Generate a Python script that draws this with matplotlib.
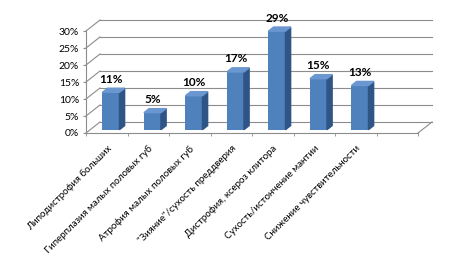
import matplotlib
matplotlib.use("Agg")
import matplotlib.pyplot as plt
from matplotlib.patches import Polygon
from matplotlib.ticker import FuncFormatter

plt.rcParams["font.family"] = ["Lato", "DejaVu Sans"]

# данные
categories = [
    "Липодистрофия больших",
    "Гиперплазия малых половых губ",
    "Атрофия малых половых губ",
    "\"Зияние\"/сухость преддверия",
    "Дистрофия, ксероз клитора",
    "Сухость/истончение мантии",
    "Снижение чувствительности",
    "",
]
values = [11, 5, 10, 17, 29, 15, 13, None]
yticks = [0, 5, 10, 15, 20, 25, 30]

# псевдо-3D параметры (в единицах осей)
DX = 0.337      # глубина по x (категории)
DY = 3.24       # глубина по y (проценты)
t0, t1 = 0.3, 0.67
W = 0.41
grid_c = "#8c8c8c"
front_c = "#4f81bd"
side_c = "#2f5587"
top_c = "#6b97d0"

n = len(categories)
fig = plt.figure(figsize=(4.68, 2.64), dpi=100, facecolor="w")
ax = fig.add_axes([86 / 468, 131 / 264, 346 / 468, 113 / 264])
ax.set_xlim(-0.5, n - 0.5 + DX)
ax.set_ylim(0, 30 + DY)
for s in ax.spines.values():
    s.set_visible(False)

# стены и сетка
x0, x1 = -0.5, n - 0.5
for y in yticks:
    ax.plot([x0, x0 + DX], [y, y + DY], color=grid_c, lw=0.8, zorder=1, clip_on=False)
    ax.plot([x0 + DX, x1 + DX], [y + DY, y + DY], color=grid_c, lw=0.8, zorder=1, clip_on=False)
ax.plot([x0, x0], [0, 30], color=grid_c, lw=0.8, zorder=1, clip_on=False)
ax.plot([x0, x1], [0, 0], color=grid_c, lw=0.8, zorder=1, clip_on=False)
ax.plot([x1, x1 + DX], [0, DY], color=grid_c, lw=0.8, zorder=1, clip_on=False)

# столбцы
for i, v in enumerate(values):
    if v is None:
        continue
    xc = i + t0 * DX
    b = t0 * DY
    bdx = (t1 - t0) * DX
    bdy = (t1 - t0) * DY
    xl, xr = xc - W / 2, xc + W / 2
    ax.bar(xc, v, width=W, bottom=b, color=front_c, zorder=3)
    ax.add_patch(Polygon([(xr, b), (xr, v + b), (xr + bdx, v + b + bdy), (xr + bdx, b + bdy)],
                         closed=True, color=side_c, zorder=3, clip_on=False))
    ax.add_patch(Polygon([(xl, v + b), (xr, v + b), (xr + bdx, v + b + bdy), (xl + bdx, v + b + bdy)],
                         closed=True, color=top_c, zorder=3, clip_on=False))
    ax.annotate("%d%%" % v, (xc, v + b + bdy), xytext=(0, 2.5), textcoords="offset points",
                ha="center", va="bottom", fontsize=8.5, fontweight="bold", annotation_clip=False)

# оси
ax.set_yticks(yticks)
ax.yaxis.set_major_formatter(FuncFormatter(lambda y, p: "%d%%" % y))
ax.tick_params(axis="y", length=2, color=grid_c, pad=3, labelsize=7.5)
ax.set_xticks(range(n))
ax.set_xticklabels(categories, rotation=45, ha="right", rotation_mode="anchor", fontsize=7)
ax.tick_params(axis="x", which="major", length=0, pad=8)
ax.set_xticks([i - 0.5 for i in range(n + 1)], minor=True)
ax.tick_params(axis="x", which="minor", length=2.5, color=grid_c)

fig.savefig("out.png", dpi=100, facecolor="w")
